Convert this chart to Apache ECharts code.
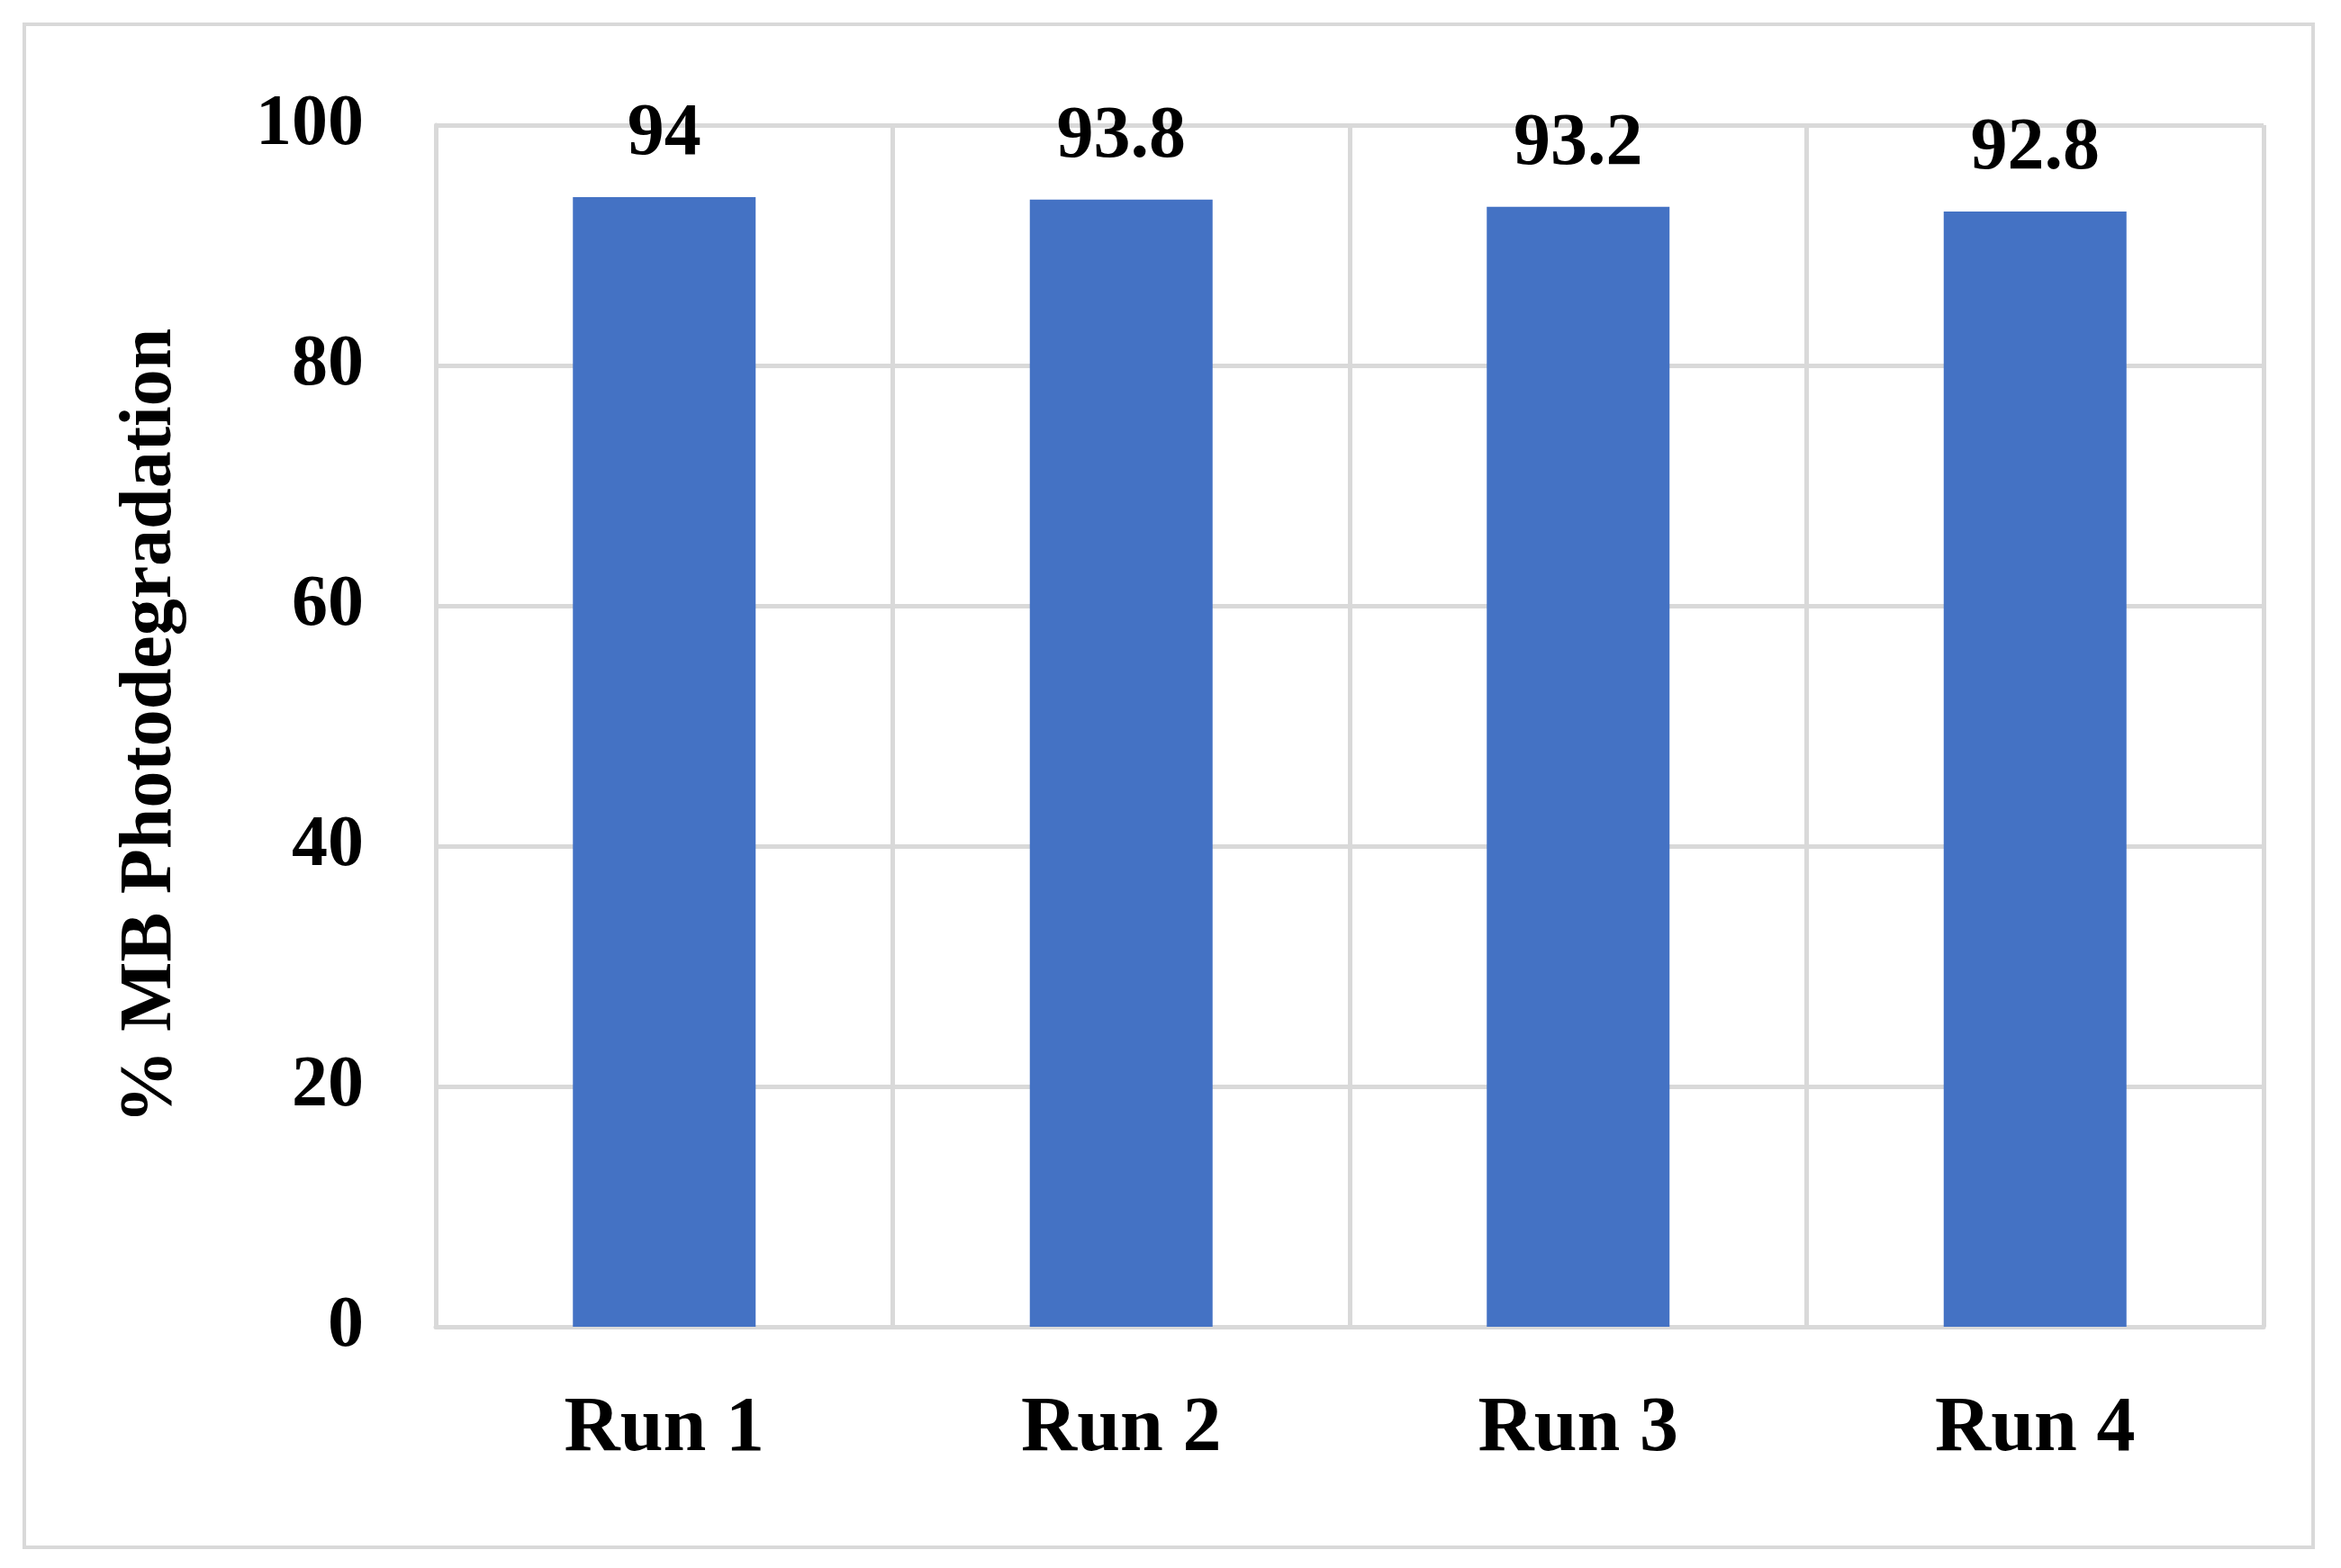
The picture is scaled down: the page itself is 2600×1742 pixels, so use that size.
<!DOCTYPE html>
<html>
<head>
<meta charset="utf-8">
<script src="https://cdn.jsdelivr.net/npm/echarts@6/dist/echarts.min.js"></script>
<style>
  html, body { margin: 0; padding: 0; background: #fff; }
  #frame { position: absolute; left: 25px; top: 25px; width: 2538px; height: 1688px; border: 4px solid #d9d9d9; }
  #main { width: 2600px; height: 1742px; }
</style>
</head>
<body>
<div id="frame"></div>
<div id="main"></div>
<script>
// data
var categories = ['Run 1', 'Run 2', 'Run 3', 'Run 4'];
var values = [94, 93.8, 93.2, 92.8];
var yTicks = [0, 20, 40, 60, 80, 100];

var font = 'Liberation Serif';
var chart = echarts.init(document.getElementById('main'));
var option = {
  animation: false,
  grid: { left: 484, right: 86, top: 139, bottom: 268 },
  xAxis: {
    type: 'category',
    data: categories,
    axisLine: { lineStyle: { color: '#d9d9d9', width: 5 } },
    axisTick: { show: false },
    splitLine: { show: true, lineStyle: { color: '#d9d9d9', width: 5 } },
    axisLabel: { color: '#000', fontFamily: font, fontWeight: 'bold', fontSize: 86, margin: 72 }
  },
  yAxis: {
    type: 'value',
    min: yTicks[0],
    max: yTicks[yTicks.length - 1],
    interval: 20,
    name: '% MB Photodegradation',
    nameLocation: 'middle',
    nameGap: 275,
    nameTextStyle: { color: '#000', fontFamily: font, fontWeight: 'bold', fontSize: 82 },
    axisLine: { show: true, lineStyle: { color: '#d9d9d9', width: 5 } },
    axisTick: { show: false },
    splitLine: { lineStyle: { color: '#d9d9d9', width: 5 } },
    axisLabel: { color: '#000', fontFamily: font, fontWeight: 'bold', fontSize: 80, margin: 80 }
  },
  series: [{
    type: 'bar',
    data: values,
    barWidth: '40%',
    itemStyle: { color: '#4472c4' },
    label: {
      show: true,
      position: 'top',
      distance: 28,
      color: '#000',
      fontFamily: font,
      fontWeight: 'bold',
      fontSize: 82
    }
  }]
};
chart.setOption(option);
</script>
</body>
</html>
